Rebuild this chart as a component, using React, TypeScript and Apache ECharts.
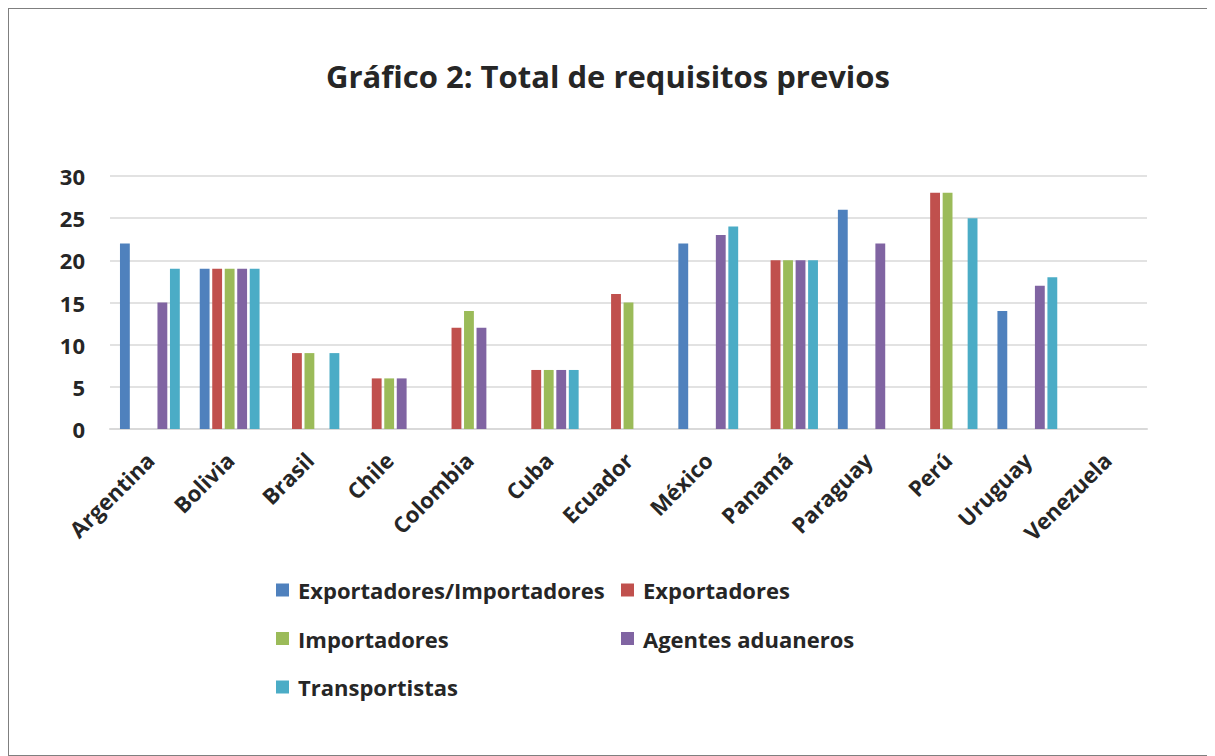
import React, { useEffect, useRef } from "react";
import * as echarts from "echarts";

const categories = ["Argentina", "Bolivia", "Brasil", "Chile", "Colombia", "Cuba", "Ecuador", "México", "Panamá", "Paraguay", "Perú", "Uruguay", "Venezuela"];
const seriesNames = ["Exportadores/Importadores", "Exportadores", "Importadores", "Agentes aduaneros", "Transportistas"];
const expImp = [22, 19, 0, 0, 0, 0, 0, 22, 0, 26, 0, 14, 0];
const exportadores = [0, 19, 9, 6, 12, 7, 16, 0, 20, 0, 28, 0, 0];
const importadores = [0, 19, 9, 6, 14, 7, 15, 0, 20, 0, 28, 0, 0];
const agentes = [15, 19, 0, 6, 12, 7, 0, 23, 20, 22, 0, 17, 0];
const transportistas = [19, 19, 9, 0, 0, 7, 0, 24, 20, 0, 25, 18, 0];
const colors = ["#4f81bd", "#c0504d", "#9bbb59", "#8064a2", "#4bacc6"];

const FONT = "'Open Sans', Lato, sans-serif";
const TXT = "#262626";

export default function App() {
  const ref = useRef<HTMLDivElement>(null);
  useEffect(() => {
    const chart = echarts.init(ref.current!, null, { renderer: "svg" });
    const values = [expImp, exportadores, importadores, agentes, transportistas];
    const legendText = { fontFamily: FONT, fontWeight: "bold", fontSize: 22, color: TXT, lineHeight: 24, padding: [0, 0, 0, 4] };
    chart.setOption({
      animation: false,
      color: colors,
      title: {
        text: "Gráfico 2: Total de requisitos previos",
        left: "center",
        top: 46,
        textStyle: { fontFamily: FONT, fontWeight: "bold", fontSize: 31, color: TXT },
      },
      legend: [
        {
          data: [seriesNames[0], seriesNames[2], seriesNames[4]],
          orient: "vertical",
          left: 262,
          top: 564,
          itemWidth: 13,
          itemHeight: 13,
          itemGap: 24.5,
          icon: "rect",
          textStyle: legendText,
        },
        {
          data: [seriesNames[1], seriesNames[3]],
          orient: "vertical",
          left: 607,
          top: 564,
          itemWidth: 13,
          itemHeight: 13,
          itemGap: 24.5,
          icon: "rect",
          textStyle: legendText,
        },
      ],
      grid: { left: 101, right: 60, top: 167, bottom: 326 },
      xAxis: {
        type: "category",
        data: categories,
        axisTick: { show: false },
        axisLine: { lineStyle: { color: "#d9d9d9", width: 2 } },
        axisLabel: {
          rotate: 45,
          interval: 0,
          margin: 27,
          fontFamily: FONT,
          fontWeight: "bold",
          fontSize: 22,
          color: TXT,
        },
      },
      yAxis: {
        type: "value",
        min: 0,
        max: 30,
        interval: 5,
        axisLine: { show: false },
        axisTick: { show: false },
        splitLine: { lineStyle: { color: "#d9d9d9", width: 1.5 } },
        axisLabel: { margin: 25, fontFamily: FONT, fontWeight: "bold", fontSize: 22, color: TXT },
      },
      series: seriesNames.map((name, i) => ({
        name,
        type: "bar",
        data: values[i],
        barCategoryGap: "25%",
        barGap: "27%",
        itemStyle: { color: colors[i] },
      })),
    });
    return () => chart.dispose();
  }, []);
  return (
    <div style={{ width: 1200, height: 748, border: "1px solid #7f7f7f", boxSizing: "border-box", background: "#fff" }}>
      <div ref={ref} style={{ width: 1198, height: 746 }} />
    </div>
  );
}
